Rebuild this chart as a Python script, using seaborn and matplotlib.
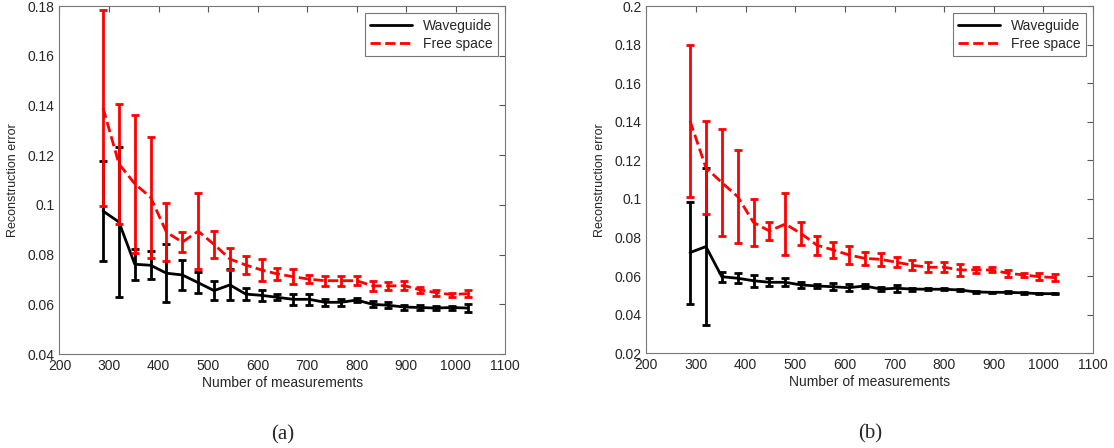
import numpy as np
import matplotlib
matplotlib.use("Agg")
import matplotlib.pyplot as plt
import seaborn as sns
from matplotlib.ticker import FuncFormatter

# number of measurements (x positions of every point)
n_meas = [288, 320, 352, 384, 416, 448, 480, 512, 544, 576, 608, 640,
          672, 704, 736, 768, 800, 832, 864, 896, 928, 960, 992, 1024]

# panel (a)
wg_a = [0.0975, 0.0931, 0.0761, 0.0757, 0.0725, 0.0718, 0.0687, 0.0655,
        0.0678, 0.0641, 0.0636, 0.0628, 0.0620, 0.0620, 0.0608, 0.0608,
        0.0617, 0.0600, 0.0596, 0.0589, 0.0587, 0.0585, 0.0587, 0.0585]
wg_a_err = [0.0202, 0.0302, 0.0062, 0.0056, 0.0116, 0.0062, 0.0042, 0.0037,
            0.0062, 0.0025, 0.0022, 0.0012, 0.0022, 0.0022, 0.0015, 0.0015,
            0.0008, 0.0012, 0.0012, 0.0010, 0.0010, 0.0008, 0.0008, 0.0015]
fs_a = [0.1390, 0.1165, 0.1085, 0.1030, 0.0890, 0.0850, 0.0894, 0.0841,
        0.0782, 0.0758, 0.0738, 0.0722, 0.0711, 0.0701, 0.0695, 0.0695,
        0.0695, 0.0674, 0.0674, 0.0675, 0.0658, 0.0647, 0.0639, 0.0643]
fs_a_err = [0.0394, 0.0240, 0.0277, 0.0242, 0.0116, 0.0040, 0.0153, 0.0053,
            0.0046, 0.0038, 0.0045, 0.0026, 0.0031, 0.0015, 0.0020, 0.0020,
            0.0018, 0.0020, 0.0015, 0.0018, 0.0012, 0.0012, 0.0008, 0.0015]

# panel (b)
wg_b = [0.0722, 0.0753, 0.0597, 0.0589, 0.0576, 0.0568, 0.0568, 0.0554,
        0.0549, 0.0545, 0.0540, 0.0549, 0.0533, 0.0537, 0.0533, 0.0532,
        0.0532, 0.0528, 0.0518, 0.0516, 0.0516, 0.0513, 0.0509, 0.0509]
wg_b_err = [0.0264, 0.0408, 0.0025, 0.0025, 0.0030, 0.0020, 0.0020, 0.0017,
            0.0010, 0.0017, 0.0017, 0.0008, 0.0010, 0.0017, 0.0008, 0.0006,
            0.0005, 0.0006, 0.0005, 0.0004, 0.0005, 0.0005, 0.0004, 0.0004]
fs_b = [0.1405, 0.1162, 0.1085, 0.1012, 0.0878, 0.0834, 0.0870, 0.0820,
        0.0760, 0.0736, 0.0710, 0.0692, 0.0687, 0.0672, 0.0656, 0.0646,
        0.0646, 0.0632, 0.0632, 0.0632, 0.0615, 0.0606, 0.0597, 0.0592]
fs_b_err = [0.0395, 0.0242, 0.0279, 0.0240, 0.0121, 0.0047, 0.0160, 0.0061,
            0.0048, 0.0040, 0.0046, 0.0033, 0.0033, 0.0025, 0.0025, 0.0025,
            0.0025, 0.0030, 0.0017, 0.0013, 0.0017, 0.0010, 0.0017, 0.0017]

sns.set_style("white")
plt.rcParams['font.family'] = ['Liberation Sans', 'DejaVu Sans']


def draw_panel(ax, wg, wg_err, fs, fs_err, ylim, yticks, tag):
    # waveguide first, free space on top
    sns.lineplot(x=n_meas, y=wg, ax=ax, color='black', lw=2, label='Waveguide')
    ax.errorbar(n_meas, wg, yerr=wg_err, fmt='none', ecolor='black',
                elinewidth=2, capsize=2.8, capthick=2)
    sns.lineplot(x=n_meas, y=fs, ax=ax, color='#ff0000', lw=2,
                 linestyle='--', label='Free space')
    ax.errorbar(n_meas, fs, yerr=fs_err, fmt='none', ecolor='#ff0000',
                elinewidth=2, capsize=2.8, capthick=2)

    ax.set_xlim(200, 1100)
    ax.set_xticks(range(200, 1101, 100))
    ax.set_ylim(*ylim)
    ax.set_yticks(yticks)
    ax.yaxis.set_major_formatter(FuncFormatter(lambda v, p: f'{v:g}'))
    ax.tick_params(direction='in', length=4, top=True, right=True,
                   labelsize=10, color='#555555')
    for s in ax.spines.values():
        s.set_color('#777777')
        s.set_linewidth(0.8)
    ax.set_xlabel('Number of measurements', fontsize=10, labelpad=2)
    ax.set_ylabel('Reconstruction error', fontsize=9, labelpad=6)
    leg = ax.legend(loc='upper right', fontsize=10, fancybox=False,
                    edgecolor='#777777', framealpha=1, handlelength=3,
                    borderpad=0.4, labelspacing=0.3)
    leg.get_frame().set_linewidth(0.8)
    ax.text(0.5, -0.232, tag, transform=ax.transAxes, ha='center',
            va='center', fontsize=15, family=['Liberation Serif', 'DejaVu Serif'])


fig = plt.figure(figsize=(11.14, 4.48), dpi=100)
ax1 = fig.add_axes([0.0534, 0.2098, 0.4002, 0.7768])
ax2 = fig.add_axes([0.5802, 0.2114, 0.4010, 0.7752])

draw_panel(ax1, wg_a, wg_a_err, fs_a, fs_a_err, (0.04, 0.18),
           [0.04, 0.06, 0.08, 0.1, 0.12, 0.14, 0.16, 0.18], '(a)')
draw_panel(ax2, wg_b, wg_b_err, fs_b, fs_b_err, (0.02, 0.2),
           [0.02, 0.04, 0.06, 0.08, 0.1, 0.12, 0.14, 0.16, 0.18, 0.2], '(b)')

fig.savefig('out.png', dpi=100)
